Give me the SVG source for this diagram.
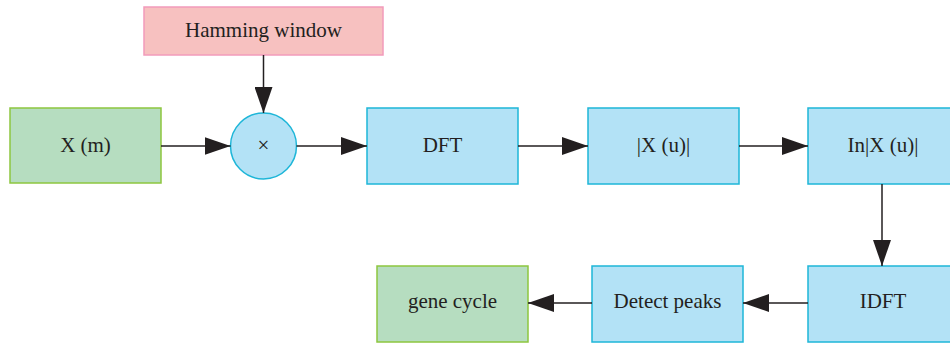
<svg xmlns="http://www.w3.org/2000/svg" width="950" height="345" viewBox="0 0 950 345">
<style>
text{font-family:"Liberation Serif","Times New Roman",serif;font-size:21px;fill:#231f20;text-anchor:middle;dominant-baseline:central}
.blue{fill:#b3e2f6;stroke:#1eb6d8;stroke-width:1.5}
.green{fill:#b6ddc0;stroke:#8dc63f;stroke-width:1.5}
.pink{fill:#f7c1c0;stroke:#f29bbb;stroke-width:1.5}
.edge{stroke:#231f20;stroke-width:1.5;fill:none;marker-end:url(#ah)}
</style>
<defs>
<marker id="ah" viewBox="0 0 26 18" refX="26" refY="9" markerWidth="26" markerHeight="18" markerUnits="userSpaceOnUse" orient="auto">
<path d="M0,0 L26,9 L0,18 z" fill="#231f20"/>
</marker>
</defs>
<g id="hamming"><rect class="pink" x="144" y="7" width="239" height="48"/><text x="263.5" y="30">Hamming window</text></g>
<g id="xm"><rect class="green" x="10" y="108" width="151" height="75"/><text x="85.5" y="145">X (m)</text></g>
<g id="mult"><circle class="blue" cx="263.5" cy="146" r="33"/><text x="263.5" y="145">×</text></g>
<g id="dft"><rect class="blue" x="367" y="108" width="151" height="76"/><text x="442.5" y="145">DFT</text></g>
<g id="absx"><rect class="blue" x="588" y="108" width="151" height="76"/><text x="663.5" y="145">|X (u)|</text></g>
<g id="lnx"><rect class="blue" x="808" y="108" width="151" height="76"/><text x="883" y="145">In|X (u)|</text></g>
<g id="idft"><rect class="blue" x="808" y="266" width="151" height="76"/><text x="883" y="301">IDFT</text></g>
<g id="peaks"><rect class="blue" x="592" y="266" width="151" height="76"/><text x="667.5" y="301">Detect peaks</text></g>
<g id="gene"><rect class="green" x="377" y="266" width="151" height="76"/><text x="452.5" y="301">gene cycle</text></g>
<g id="connectors">
<line class="edge" x1="263.5" y1="55" x2="263.5" y2="113"/>
<line class="edge" x1="161" y1="146" x2="230.5" y2="146"/>
<line class="edge" x1="296.5" y1="146" x2="367" y2="146"/>
<line class="edge" x1="518" y1="146" x2="588" y2="146"/>
<line class="edge" x1="739" y1="146" x2="808" y2="146"/>
<line class="edge" x1="882" y1="184" x2="882" y2="266"/>
<line class="edge" x1="808" y1="303" x2="743" y2="303"/>
<line class="edge" x1="592" y1="303" x2="528" y2="303"/>
</g>
</svg>
